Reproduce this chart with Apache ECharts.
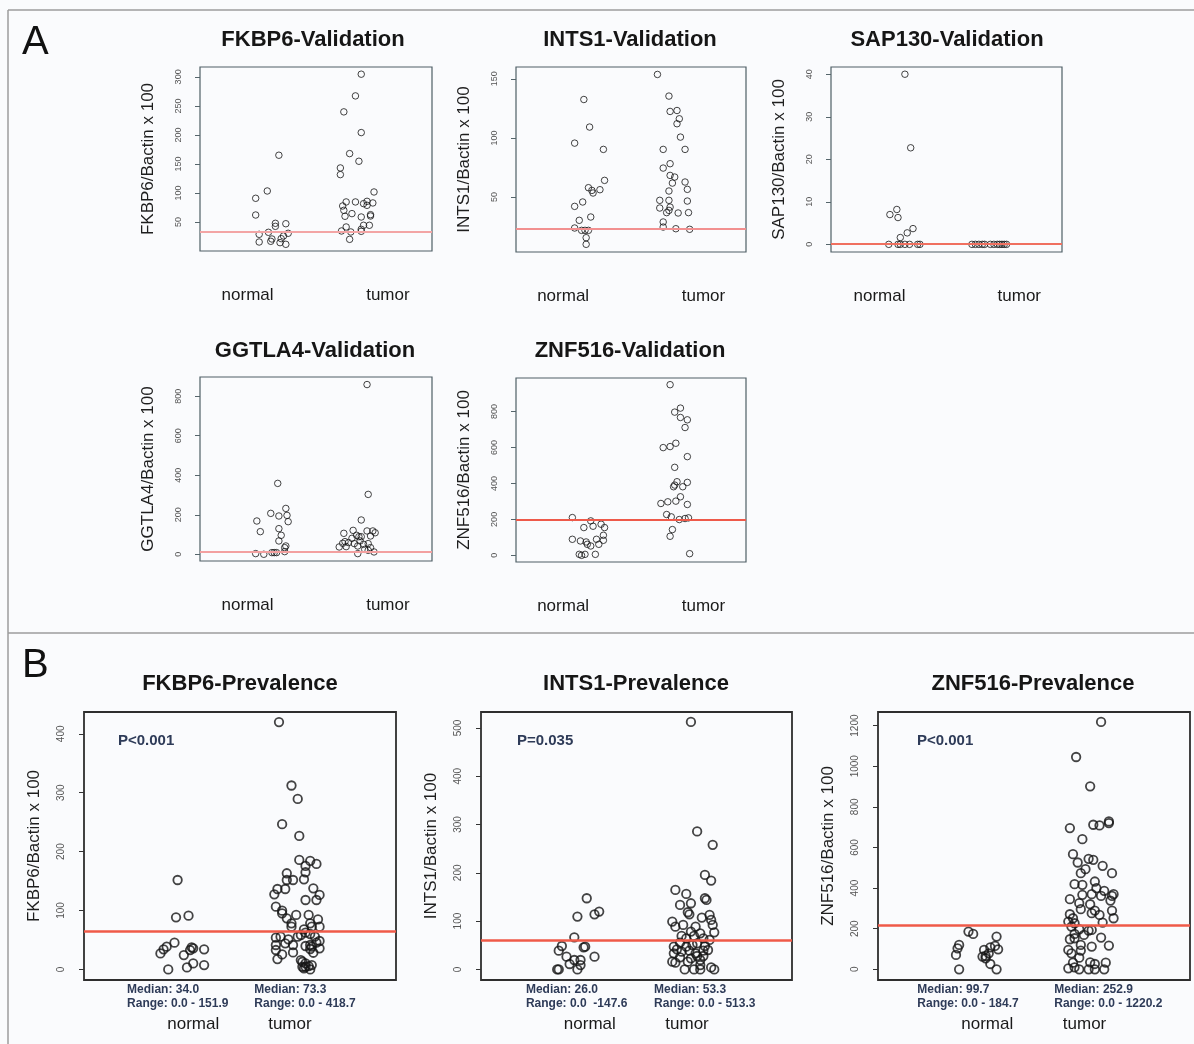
<!DOCTYPE html>
<html><head><meta charset="utf-8">
<script src="https://cdn.jsdelivr.net/npm/echarts@6/dist/echarts.min.js"></script>
<style>html,body{margin:0;padding:0;background:#fafbfd}#c{width:1194px;height:1044px}</style>
</head><body><div id="c"></div><script>
// ---------- data ----------
const categories = ['normal', 'tumor'];

// Panel A — validation sets ([jittered group position, value])
const fkbp6ValNormal = [[1.18,165],[1.08,103.4],[0.98,90.8],[0.98,62],[1.15,47.7],[1.15,42.5],[1.24,47],[1.01,28.7],[1.09,32.2],[1.12,20.7],[1.11,16.7],[1.01,15.5],[1.2,21.3],[1.22,25.9],[1.26,30.5],[1.19,14.4],[1.24,11.5]];
const fkbp6ValTumor = [[1.89,304.6],[1.84,267.2],[1.74,239.7],[1.89,204],[1.79,167.8],[1.87,154.6],[1.71,143.1],[1.71,131.6],[2.0,101.7],[1.76,84.5],[1.84,84.5],[1.94,85.6],[1.99,82.8],[1.91,81.6],[1.73,77.6],[1.94,78.7],[1.74,70.1],[1.81,64.4],[1.75,59.8],[1.97,62.6],[1.89,58.6],[1.97,60.3],[1.76,41.4],[1.72,34.5],[1.8,32.8],[1.91,44.3],[1.96,44.3],[1.89,37.4],[1.89,33.9],[1.79,20.1]];
const fkbp6ValCutoff = 33;
const fkbp6ValTicks = [50,100,150,200,250,300];

const ints1ValNormal = [[1.09,132.5],[1.14,109.2],[1.01,95.6],[1.26,90.3],[1.27,64.1],[1.13,57.9],[1.17,53.4],[1.16,55.6],[1.23,56.2],[1.01,42.1],[1.08,45.8],[1.15,33.1],[1.05,30.3],[1.01,23.8],[1.07,21.8],[1.1,21.8],[1.13,21.8],[1.11,15.6],[1.11,10]];
const ints1ValTumor = [[1.73,153.7],[1.83,135.4],[1.84,122.4],[1.9,123.2],[1.92,116.2],[1.9,112],[1.93,100.7],[1.78,90.3],[1.97,90.3],[1.84,78.2],[1.78,74.5],[1.84,68.3],[1.88,66.9],[1.86,61.8],[1.97,62.7],[1.99,56.5],[1.83,55.1],[1.75,47.2],[1.83,47.2],[1.99,46.6],[1.75,40.7],[1.84,41.5],[1.83,38.7],[1.81,36.8],[1.91,36.5],[2.0,36.8],[1.78,28.9],[1.78,24.6],[1.89,23.2],[2.01,22.7]];
const ints1ValCutoff = 23.2;
const ints1ValTicks = [50,100,150];

const sap130ValNormal = [[1.14,40],[1.19,22.7],[1.07,8.2],[1.01,7.0],[1.08,6.3],[1.21,3.7],[1.16,2.7],[1.1,1.6],[1.0,0],[1.08,0],[1.1,0],[1.14,0],[1.18,0],[1.25,0],[1.27,0]];
const sap130ValTumor = [[1.72,0],[1.75,0],[1.78,0],[1.81,0],[1.83,0],[1.88,0],[1.91,0],[1.94,0],[1.96,0],[1.98,0],[2.0,0],[2.02,0]];
const sap130ValCutoff = 0.2;
const sap130ValTicks = [0,10,20,30,40];

const ggtla4ValNormal = [[1.17,358.7],[0.99,168.4],[1.11,207],[1.24,232],[1.18,193.7],[1.25,197],[1.26,165],[1.02,114.5],[1.18,129.7],[1.2,96],[1.18,67.4],[1.24,42.1],[1.23,33.7],[1.23,13.5],[0.98,3.4],[1.05,0],[1.12,8.4],[1.14,8.4],[1.16,8.4]];
const ggtla4ValTumor = [[1.94,858.8],[1.95,303],[1.89,173.5],[1.74,106],[1.82,121],[1.94,118],[1.99,118],[2.01,109],[1.85,96],[1.87,89],[1.89,89],[1.97,92.6],[1.81,80.8],[1.75,64],[1.78,59],[1.73,55.6],[1.83,54],[1.91,50.5],[1.95,54],[1.7,37],[1.76,38.7],[1.86,42],[1.97,33.7],[1.92,25],[1.95,20],[2.0,11.8],[1.86,3.4],[1.88,67.4]];
const ggtla4ValCutoff = 13.5;
const ggtla4ValTicks = [0,200,400,600,800];

const znf516ValNormal = [[0.99,210],[1.15,191.6],[1.09,154.4],[1.17,161.9],[1.24,173],[1.27,154.4],[1.26,111.6],[0.99,89.3],[1.06,80],[1.11,74.4],[1.12,61.4],[1.15,52.1],[1.2,89.3],[1.22,61.4],[1.26,83.7],[1.05,5.6],[1.07,0],[1.1,5.6],[1.19,5.6]];
const znf516ValTumor = [[1.84,948.9],[1.88,796.3],[1.93,818.6],[1.93,766.5],[1.99,753.5],[1.97,710.7],[1.78,599],[1.84,604.7],[1.89,623.3],[1.99,548.8],[1.88,489.3],[1.9,409.3],[1.99,405.6],[1.88,390.7],[1.95,381.4],[1.87,381.4],[1.93,325.6],[1.89,301.4],[1.82,297.7],[1.76,288.4],[1.99,282.8],[1.81,227],[1.85,214],[1.92,199],[1.97,204.7],[2.0,208.4],[1.86,143.3],[1.84,106],[2.01,9.3]];
const znf516ValCutoff = 200;
const znf516ValTicks = [0,200,400,600,800];

// Panel B — prevalence sets
const fkbp6PrevNormal = [[1.1,151.8],[1.09,88.4],[1.17,91.2],[1.08,45.3],[1.03,38.5],[1.01,34],[0.99,27.2],[1.19,37.4],[1.2,35.7],[1.18,32.9],[1.27,34],[1.14,24.4],[1.2,10.2],[1.16,3.4],[1.27,7.4],[1.04,0]];
const fkbp6PrevTumor = [[1.75,419.9],[1.83,312.2],[1.87,289.5],[1.77,246.5],[1.88,226.6],[1.88,185.8],[1.95,184.1],[1.99,179],[1.92,175.6],[1.8,163.2],[1.92,164.9],[1.84,151.8],[1.8,151.8],[1.91,153],[1.74,136.5],[1.79,136.5],[1.72,127.5],[1.97,137.7],[2.01,126.4],[1.92,117.8],[1.99,117.8],[1.73,106.5],[1.77,99.7],[1.77,95.2],[1.86,92.4],[1.94,92.4],[1.8,86.7],[2.0,85],[1.83,78.2],[1.95,78.2],[2.01,72.5],[1.83,72.5],[1.96,72.5],[1.91,68],[1.73,53.8],[1.76,55.5],[1.87,55.5],[1.89,58.4],[1.92,62.3],[1.95,60.1],[1.98,55.5],[1.81,51],[1.73,41.4],[1.79,44.2],[1.99,45.3],[2.01,48.2],[1.73,32.9],[1.84,41.4],[1.92,39.7],[1.95,41.4],[1.96,38.5],[1.95,34.6],[2.01,35.7],[1.97,28.3],[1.84,28.9],[1.77,25.5],[1.74,17.6],[1.89,15.9],[1.9,13],[1.92,10.2],[1.9,4.5],[1.92,4.5],[1.94,5.7],[1.96,7.4],[1.91,1.7],[1.95,0]];
const fkbp6PrevCutoff = 64;
const fkbp6PrevTicks = [0,100,200,300,400];
const fkbp6PrevStats = ['Median: 34.0\nRange: 0.0 - 151.9', 'Median: 73.3\nRange: 0.0 - 418.7'];
const fkbp6PrevP = 'P<0.001';

const ints1PrevNormal = [[1.18,147.3],[1.12,109.3],[1.23,114.1],[1.26,119.6],[1.1,66.4],[1.02,48.4],[1.0,38.7],[1.17,47],[1.16,45.6],[1.05,26.3],[1.23,26.3],[1.1,19.4],[1.14,19.4],[1.07,11.1],[1.14,9],[1.12,0],[0.99,0],[1.0,0]];
const ints1PrevTumor = [[1.85,512.5],[1.89,285.6],[1.99,258],[1.94,195.7],[1.98,184],[1.75,164.6],[1.82,156.3],[1.94,147.3],[1.95,143.9],[1.85,136.9],[1.78,133.5],[1.83,118.3],[1.84,114.1],[1.92,107.2],[1.97,112.7],[1.98,102.4],[1.73,98.9],[1.75,88.5],[1.8,92],[1.88,88.5],[1.99,92],[2.0,76.8],[1.91,74.7],[1.79,69.2],[1.85,78.2],[1.87,69.2],[1.82,64.3],[1.93,64.3],[1.97,60.9],[1.74,47],[1.78,55.3],[1.82,47],[1.86,50.5],[1.89,53.9],[1.94,48.4],[1.76,41.5],[1.79,36.7],[1.84,38.7],[1.88,33.2],[1.93,38.7],[1.96,40.1],[1.74,33.2],[1.89,27.7],[1.93,27.7],[1.78,24.9],[1.85,22.8],[1.91,19.4],[1.73,15.9],[1.75,13.8],[1.83,15.9],[1.91,9],[1.98,4.1],[2.0,0],[1.81,0],[1.87,0],[1.91,0]];
const ints1PrevCutoff = 61;
const ints1PrevTicks = [0,100,200,300,400,500];
const ints1PrevStats = ['Median: 26.0\nRange: 0.0  -147.6', 'Median: 53.3\nRange: 0.0 - 513.3'];
const ints1PrevP = 'P=0.035';

const znf516PrevNormal = [[1.08,185.8],[1.11,174.2],[1.26,161.1],[1.02,120],[1.01,103.6],[1.0,70.7],[1.18,95.3],[1.22,108.5],[1.25,115.1],[1.27,98.6],[1.21,78.9],[1.19,65.8],[1.17,62.5],[1.19,54.2],[1.22,26.3],[1.02,0],[1.26,0]];
const znf516PrevTumor = [[1.93,1218],[1.77,1045.4],[1.86,900.8],[1.98,728],[1.98,720],[1.88,711.8],[1.92,708.5],[1.73,695.3],[1.81,641],[1.75,567],[1.78,526],[1.85,544],[1.88,539],[1.94,509.6],[1.83,493],[1.8,473.4],[2.0,473.4],[1.76,419],[1.81,416],[1.89,432.3],[1.9,399.4],[1.95,386.3],[2.01,369.9],[2.0,361.6],[1.87,369.9],[1.81,366.6],[1.93,361.6],[1.73,345.2],[1.99,338.6],[1.79,325.5],[1.86,320.5],[1.8,295.9],[1.89,289.3],[2.0,289.3],[1.73,271.2],[1.87,276.2],[1.92,268],[1.75,251.5],[2.01,251.5],[1.72,235.1],[1.76,226.8],[1.94,230.1],[1.74,210.4],[1.79,197.3],[1.85,190.7],[1.87,194],[1.76,174.2],[1.82,169.3],[1.73,148],[1.93,156.2],[1.76,152.9],[1.8,120],[1.87,111.8],[1.98,116.7],[1.72,95.3],[1.8,92.1],[1.74,78.9],[1.79,57.5],[1.75,32.9],[1.86,34.5],[1.89,26.3],[1.96,32.9],[1.72,4.9],[1.76,9.9],[1.79,0],[1.85,0],[1.89,0],[1.95,0]];
const znf516PrevCutoff = 215;
const znf516PrevTicks = [0,200,400,600,800,1000,1200];
const znf516PrevStats = ['Median: 99.7\nRange: 0.0 - 184.7', 'Median: 252.9\nRange: 0.0 - 1220.2'];
const znf516PrevP = 'P<0.001';

// ---------- layout ----------
const FONT = '"Liberation Sans", Arial, Helvetica, sans-serif';
const panels = [
  {kind:'A', title:'FKBP6-Validation', tx:313, ty:40, yName:'FKBP6/Bactin x 100', normal:fkbp6ValNormal, tumor:fkbp6ValTumor, cutoff:fkbp6ValCutoff, ticks:fkbp6ValTicks, yMin:0, yMax:317, box:[200,67,232,184], catPos:[0.91,2.12], line:'#f3a5a5'},
  {kind:'A', title:'INTS1-Validation', tx:630, ty:40, yName:'INTS1/Bactin x 100', normal:ints1ValNormal, tumor:ints1ValTumor, cutoff:ints1ValCutoff, ticks:ints1ValTicks, yMin:3.5, yMax:160, box:[516,67,230,185], catPos:[0.91,2.13], line:'#f29090'},
  {kind:'A', title:'SAP130-Validation', tx:947, ty:40, yName:'SAP130/Bactin x 100', normal:sap130ValNormal, tumor:sap130ValTumor, cutoff:sap130ValCutoff, ticks:sap130ValTicks, yMin:-1.8, yMax:41.7, box:[831,67,231,185], catPos:[0.92,2.13], line:'#f07060'},
  {kind:'A', title:'GGTLA4-Validation', tx:315, ty:351, yName:'GGTLA4/Bactin x 100', normal:ggtla4ValNormal, tumor:ggtla4ValTumor, cutoff:ggtla4ValCutoff, ticks:ggtla4ValTicks, yMin:-34, yMax:897, box:[200,377,232,184], catPos:[0.91,2.12], line:'#f3a0a0'},
  {kind:'A', title:'ZNF516-Validation', tx:630, ty:351, yName:'ZNF516/Bactin x 100', normal:znf516ValNormal, tumor:znf516ValTumor, cutoff:znf516ValCutoff, ticks:znf516ValTicks, yMin:-37, yMax:986, box:[516,378,230,184], catPos:[0.91,2.13], line:'#ee5a4a'},
  {kind:'B', title:'FKBP6-Prevalence', tx:240, ty:684, yName:'FKBP6/Bactin x 100', normal:fkbp6PrevNormal, tumor:fkbp6PrevTumor, cutoff:fkbp6PrevCutoff, ticks:fkbp6PrevTicks, yMin:-18, yMax:437, box:[84,712,312,268], catPos:[1.2,1.82], statPos:[0.776,1.592], stats:fkbp6PrevStats, p:fkbp6PrevP, px:118, line:'#ef5a48'},
  {kind:'B', title:'INTS1-Prevalence', tx:636, ty:684, yName:'INTS1/Bactin x 100', normal:ints1PrevNormal, tumor:ints1PrevTumor, cutoff:ints1PrevCutoff, ticks:ints1PrevTicks, yMin:-22, yMax:533, box:[481,712,311,268], catPos:[1.2,1.825], statPos:[0.789,1.613], stats:ints1PrevStats, p:ints1PrevP, px:517, line:'#ef5a48'},
  {kind:'B', title:'ZNF516-Prevalence', tx:1033, ty:684, yName:'ZNF516/Bactin x 100', normal:znf516PrevNormal, tumor:znf516PrevTumor, cutoff:znf516PrevCutoff, ticks:znf516PrevTicks, yMin:-52.6, yMax:1267, box:[878,712,312,268], catPos:[1.2,1.824], statPos:[0.752,1.63], stats:znf516PrevStats, p:znf516PrevP, px:917, line:'#ef5a48'}
];

const grid = [], xAxis = [], yAxis = [], series = [], graphic = [];
const near = (a, b) => Math.abs(a - b) < 1e-6;

panels.forEach((p, i) => {
  const B = p.kind === 'B';
  grid.push({left:p.box[0], top:p.box[1], width:p.box[2], height:p.box[3], show:true,
    borderColor: B ? '#2e2e2e' : '#4f5f66', borderWidth: B ? 1.8 : 1.2, backgroundColor:'transparent',
    containLabel:false, outerBoundsMode:'none'});
  const xi = xAxis.length;
  xAxis.push({type:'value', gridIndex:i, position:'bottom', min:0.5, max:2.5,
    axisLine:{show:false}, axisTick:{show:false}, splitLine:{show:false},
    axisLabel:{customValues:p.catPos, formatter:(v)=> near(v, p.catPos[0]) ? categories[0] : categories[1],
      margin:36, fontSize:17, color:'#1a1a1a', fontFamily:FONT}});
  if (B) {
    xAxis.push({type:'value', gridIndex:i, position:'bottom', min:0.5, max:2.5,
      axisLine:{show:false}, axisTick:{show:false}, splitLine:{show:false},
      axisLabel:{customValues:p.statPos, formatter:(v)=> near(v, p.statPos[0]) ? p.stats[0] : p.stats[1],
        align:'left', margin:3, fontSize:12, lineHeight:14, fontWeight:'bold', color:'#2e3b58', fontFamily:FONT}});
  }
  yAxis.push({type:'value', gridIndex:i, position:'left', min:p.yMin, max:p.yMax,
    axisLine:{show:false}, splitLine:{show:false},
    axisTick:{show:true, customValues:p.ticks, length:5, lineStyle:{color: B ? '#333' : '#55656b', width:1}},
    axisLabel:{customValues:p.ticks, formatter:(v)=> String(v), rotate:90, margin: B ? 18 : 17, fontSize: B ? 10 : 9, color:'#555', fontFamily:FONT},
    name:p.yName, nameLocation:'middle', nameGap: B ? 41 : 43,
    nameTextStyle:{fontSize:17, color:'#1e1e1e', fontFamily:FONT}});
  const sym = {type:'scatter', xAxisIndex:xi, yAxisIndex:i, symbol:'circle',
    symbolSize: B ? 8.5 : 6.5, silent:true, animation:false,
    itemStyle:{color:'rgba(0,0,0,0)', borderColor:'#151515', borderWidth: B ? 1.8 : 1}};
  series.push(Object.assign({}, sym, {name:categories[0], data:p.normal,
    markLine:{silent:true, symbol:'none', animation:false, label:{show:false},
      lineStyle:{color:p.line, width: B ? 2.5 : 2, type:'solid'}, data:[{yAxis:p.cutoff}]}}));
  series.push(Object.assign({}, sym, {name:categories[1], data:p.tumor}));
  graphic.push({type:'text', x:p.tx, y:p.ty, style:{text:p.title, font:'bold 22px ' + FONT, fill:'#161616', align:'center', verticalAlign:'middle'}});
  if (B) graphic.push({type:'text', x:p.px, y:741, style:{text:p.p, font:'bold 15px ' + FONT, fill:'#2e3b58', align:'left', verticalAlign:'middle'}});
});

graphic.push({type:'line', shape:{x1:8,y1:10,x2:1194,y2:10}, style:{stroke:'#9c9c9c', lineWidth:1.5}});
graphic.push({type:'line', shape:{x1:8,y1:10,x2:8,y2:1044}, style:{stroke:'#9c9c9c', lineWidth:1.5}});
graphic.push({type:'line', shape:{x1:8,y1:633,x2:1194,y2:633}, style:{stroke:'#9c9c9c', lineWidth:1.5}});
graphic.push({type:'text', x:22, y:43, style:{text:'A', font:'40px ' + FONT, fill:'#111', align:'left', verticalAlign:'middle'}});
graphic.push({type:'text', x:22, y:666, style:{text:'B', font:'40px ' + FONT, fill:'#111', align:'left', verticalAlign:'middle'}});

const chart = echarts.init(document.getElementById('c'), null, {renderer:'canvas'});
chart.setOption({backgroundColor:'#fafbfd', animation:false, grid, xAxis, yAxis, series, graphic});
</script></body></html>
